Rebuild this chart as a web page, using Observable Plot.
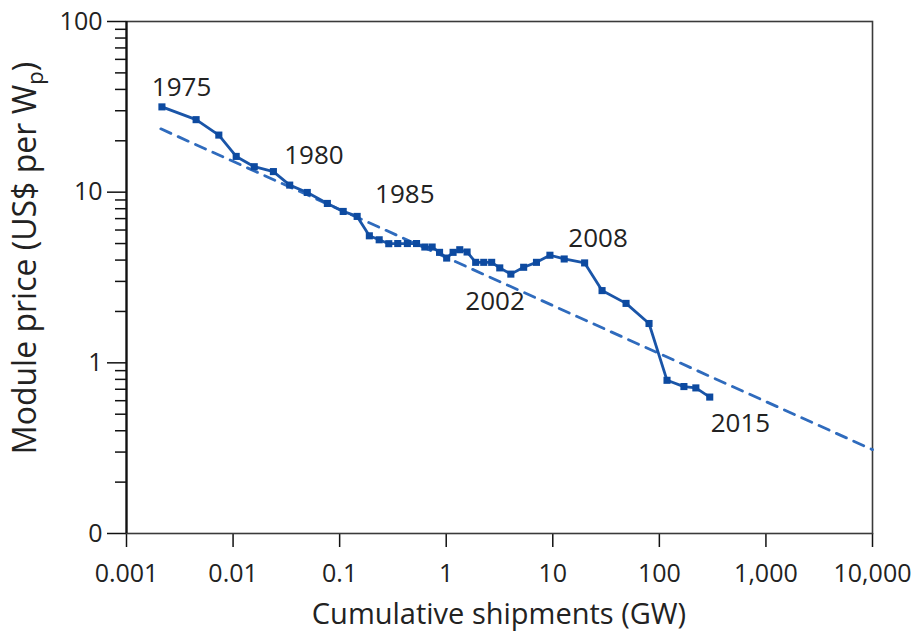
<!DOCTYPE html>
<html>
<head>
<meta charset="utf-8">
<script src="https://cdn.jsdelivr.net/npm/d3@7"></script>
<script src="https://cdn.jsdelivr.net/npm/@observablehq/plot@0.6"></script>
<style>
  html, body { margin: 0; padding: 0; background: #fff; }
</style>
</head>
<body>
<div id="chart"></div>
<script>
// Cumulative shipments (GW), one point per year 1975–2015
const shipments = [0.00215, 0.0045, 0.00735, 0.0107, 0.0158, 0.0239, 0.034, 0.0497, 0.0767, 0.108,
  0.146, 0.190, 0.235, 0.289, 0.351, 0.432, 0.527, 0.630, 0.738, 0.866,
  1.01, 1.16, 1.34, 1.57, 1.89, 2.25, 2.67, 3.18, 4.04, 5.33,
  7.03, 9.4, 12.8, 19.9, 29.0, 48.7, 80.0, 118, 170, 220, 297];
// Module price (US$ per Wp)
const price = [31.6, 26.6, 21.6, 16.2, 14.1, 13.2, 11.0, 9.96, 8.59, 7.71,
  7.21, 5.55, 5.26, 4.99, 5.0, 5.0, 5.0, 4.77, 4.77, 4.44,
  4.11, 4.44, 4.60, 4.46, 3.88, 3.88, 3.88, 3.60, 3.31, 3.63,
  3.88, 4.27, 4.06, 3.85, 2.65, 2.23, 1.70, 0.79, 0.726, 0.713, 0.63];

// Experience-curve trend line (dashed), end points
const trendShipments = [0.0021, 10000];
const trendPrice = [23.5, 0.31];

// Year annotations
const labelYears = ["1975", "1980", "1985", "2002", "2008", "2015"];
const labelShipments = [0.00173, 0.0302, 0.215, 1.51, 14.0, 303];
const labelPrice = [36.5, 14.6, 8.62, 2.04, 4.76, 0.394];

// Axis ticks
const xTicks = [0.001, 0.01, 0.1, 1, 10, 100, 1000, 10000];
const xTickLabels = ["0.001", "0.01", "0.1", "1", "10", "100", "1,000", "10,000"];
const yTicks = [0.1, 1, 10, 100];
const yTickLabels = ["0", "1", "10", "100"];
const yMinorTicks = [0.2, 0.3, 0.4, 0.5, 0.6, 0.7, 0.8, 0.9,
  2, 3, 4, 5, 6, 7, 8, 9,
  20, 30, 40, 50, 60, 70, 80, 90];

const points = shipments.map((s, i) => ({x: s, y: price[i]}));
const trend = trendShipments.map((s, i) => ({x: s, y: trendPrice[i]}));
const labels = labelYears.map((t, i) => ({x: labelShipments[i], y: labelPrice[i], text: t}));

const font = "'Open Sans', 'Liberation Sans', Arial, sans-serif";

const chart = Plot.plot({
  width: 915,
  height: 636,
  marginLeft: 126,
  marginRight: 43,
  marginTop: 21,
  marginBottom: 103,
  style: {fontFamily: font, fontSize: "25px", color: "#222", background: "#fff", overflow: "visible"},
  x: {type: "log", domain: [0.001, 10000]},
  y: {type: "log", domain: [0.1, 100]},
  marks: [
    Plot.axisY(yMinorTicks, {tickSize: 11, tickFormat: () => "", strokeWidth: 1.5, stroke: "#111", label: null}),
    Plot.axisY(yTicks, {tickSize: 19, tickPadding: 5, tickFormat: d => yTickLabels[yTicks.indexOf(d)],
      fontSize: 25, strokeWidth: 1.5, stroke: "#111", fill: "#222", label: null}),
    Plot.axisX(xTicks, {tickSize: 14, tickPadding: 17, tickFormat: d => xTickLabels[xTicks.indexOf(d)],
      fontSize: 25, strokeWidth: 1.5, stroke: "#111", fill: "#222", label: null}),
    Plot.frame({stroke: "#3a3a3a", strokeWidth: 1.6}),
    Plot.ruleX([0.001], {stroke: "#111", strokeWidth: 2.2}),
    Plot.line(trend, {x: "x", y: "y", stroke: "#2f6bbd", strokeWidth: 2.8, strokeDasharray: "11,8"}),
    Plot.line(points, {x: "x", y: "y", stroke: "#1a55a8", strokeWidth: 2.8}),
    Plot.dot(points, {x: "x", y: "y", symbol: "square", r: 4, fill: "#0d4aa0", stroke: "none"}),
    Plot.text(labels, {x: "x", y: "y", text: "text", textAnchor: "start", lineAnchor: "bottom",
      fontSize: 26, fill: "#222"})
  ]
});

const svg = d3.select(chart);
svg.append("text")
  .attr("x", 499).attr("y", 624)
  .attr("text-anchor", "middle")
  .attr("font-family", font)
  .attr("font-size", 29)
  .attr("fill", "#222")
  .text("Cumulative shipments (GW)");

const yt = svg.append("text")
  .attr("transform", "translate(36,258) rotate(-90)")
  .attr("text-anchor", "middle")
  .attr("font-family", font)
  .attr("font-size", 32)
  .attr("fill", "#222");
yt.append("tspan").text("Module price (US$ per W");
yt.append("tspan").attr("font-size", 22).attr("dy", 7).text("p");
yt.append("tspan").attr("dy", -7).text(")");

document.getElementById("chart").appendChild(chart);
</script>
</body>
</html>
